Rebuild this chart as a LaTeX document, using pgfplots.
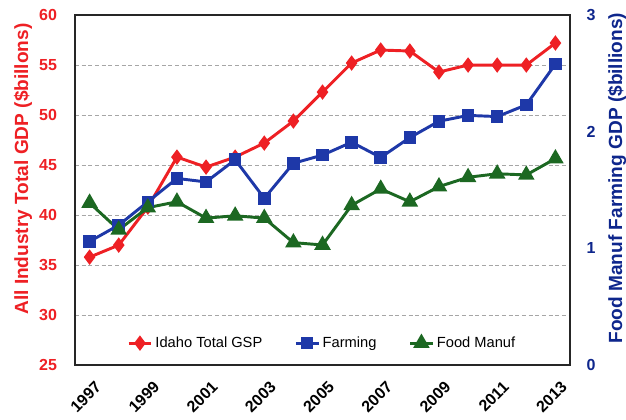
\documentclass[border=0pt]{standalone}
\usepackage{fontspec}
\setmainfont{Liberation Sans}
\usepackage{pgfplots}
\pgfplotsset{compat=1.18}

\definecolor{gspred}{RGB}{238,32,36}
\definecolor{farmblue}{RGB}{30,56,168}
\definecolor{foodgreen}{RGB}{28,104,34}
\definecolor{labblue}{RGB}{14,38,140}

\pgfplotsset{
  base/.style={
    width=371pt, height=262.5pt, scale only axis,
    xmin=1996.5, xmax=2013.5,
    /pgf/number format/assume math mode=true,
    /pgf/number format/1000 sep={},
    tick label style={font=\bfseries\fontsize{12}{12}\selectfont},
    major tick length=0pt,
  }
}

\begin{document}
\begin{tikzpicture}
% left axis: all industry total
\begin{axis}[base, name=a,
    ymin=25, ymax=60, ytick={25,30,...,60},
    ytick pos=left,
    xtick={1997,1999,...,2013},
    x tick label style={rotate=45, anchor=north east, xshift=-2pt, yshift=-7pt},
    ymajorgrids,
    grid style={densely dashed, gray!70, line width=0.8pt},
    axis line style={line width=1.6pt, black!85},
    yticklabel style={text=gspred, xshift=-10pt},
    ylabel={All Industry Total GDP (\$billons)},
    ylabel style={text=gspred, font=\bfseries\fontsize{14.3}{14.3}\selectfont,
      at={(axis description cs:-0.105,0.56)}, anchor=center},
  ]
\addplot[gspred, line width=2.2pt, mark=diamond*, mark size=4pt]
  coordinates {
    (1997,35.8) (1998,37.0) (1999,40.8) (2000,45.8) (2001,44.8)
    (2002,45.8) (2003,47.2) (2004,49.4) (2005,52.3) (2006,55.2)
    (2007,56.5) (2008,56.4) (2009,54.3) (2010,55.0) (2011,55.0)
    (2012,55.0) (2013,57.2)
  };
\end{axis}
% right axis: farming and food manufacturing
\begin{axis}[base,
    ymin=0, ymax=3, ytick={0,1,2,3},
    axis y line*=right, axis x line=none,
    axis line style={line width=1.6pt, black!85},
    yticklabel style={text=labblue, xshift=9pt},
    ylabel={Food Manuf Farming GDP (\$billions)},
    ylabel style={text=labblue, font=\bfseries\fontsize{14.3}{14.3}\selectfont,
      at={(axis description cs:1.095,0.534)}, anchor=center},
    legend style={at={(0.5,0.063)}, anchor=center, draw=none, fill=none,
      font=\fontsize{11}{13}\selectfont,
      /tikz/every even column/.append style={column sep=22pt}},
    legend columns=3,
  ]
\addlegendimage{gspred, line width=2.2pt, mark=diamond*, mark size=4pt}
\addlegendentry{Idaho Total GSP}
\addplot[farmblue, line width=2.2pt, mark=square*, mark size=3.6pt]
  coordinates {
    (1997,1.06) (1998,1.20) (1999,1.40) (2000,1.60) (2001,1.57)
    (2002,1.76) (2003,1.43) (2004,1.73) (2005,1.80) (2006,1.91)
    (2007,1.78) (2008,1.95) (2009,2.09) (2010,2.14) (2011,2.13)
    (2012,2.23) (2013,2.58)
  };
\addlegendentry{Farming}
\addplot[foodgreen, line width=2.2pt, mark=triangle*, mark size=5pt]
  coordinates {
    (1997,1.39) (1998,1.16) (1999,1.35) (2000,1.40) (2001,1.26)
    (2002,1.28) (2003,1.26) (2004,1.05) (2005,1.03) (2006,1.37)
    (2007,1.51) (2008,1.40) (2009,1.53) (2010,1.61) (2011,1.64)
    (2012,1.63) (2013,1.77)
  };
\addlegendentry{Food Manuf}
\end{axis}
\pgfresetboundingbox
\useasboundingbox ([xshift=-56.25pt,yshift=-40.5pt]a.south west)
  rectangle ([xshift=42pt,yshift=11.25pt]a.north east);
\end{tikzpicture}
\end{document}
